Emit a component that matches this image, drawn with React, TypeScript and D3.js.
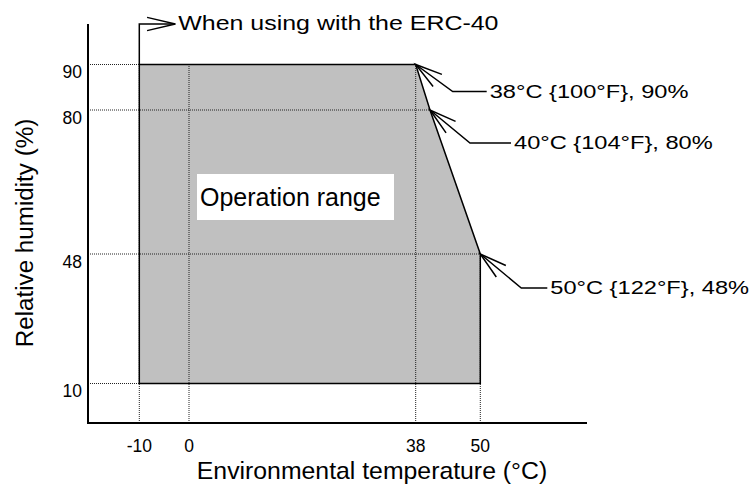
import * as d3 from "d3";

// Temperature / humidity ticks (the chart is schematic, so the scales are piecewise)
const tempTicks = [-10, 0, 38, 50];
const humidityTicks = [90, 80, 48, 10];

// Operation range outline, clockwise from bottom-left: [temperature °C, humidity %]
const rangeTemp = [-10, -10, 38, 40, 50, 50];
const rangeHumidity = [10, 90, 90, 80, 48, 10];

// Corner call-outs
const calloutTemp = [38, 40, 50];
const calloutHumidity = [90, 80, 48];
const calloutLabels = ["38°C {100°F}, 90%", "40°C {104°F}, 80%", "50°C {122°F}, 48%"];

const noteLabel = "When using with the ERC-40";
const areaLabel = "Operation range";
const xTitle = "Environmental temperature (°C)";
const yTitle = "Relative humidity (%)";

const font = "'Liberation Sans', Arial, sans-serif";

function arrowHead(tipX: number, tipY: number, fromX: number, fromY: number, len = 28, spread = 0.27) {
  const angle = Math.atan2(fromY - tipY, fromX - tipX);
  const a1 = angle - spread;
  const a2 = angle + spread;
  return `M${tipX + len * Math.cos(a1)},${tipY + len * Math.sin(a1)}L${tipX},${tipY}L${tipX + len * Math.cos(a2)},${tipY + len * Math.sin(a2)}`;
}

export default function App() {
  const width = 751;
  const height = 489;
  const axisLeft = 88;
  const axisBottom = 423;
  const axisTop = 24;
  const axisRight = 587;

  const x = d3.scaleLinear().domain([-10, 0, 38, 40, 50]).range([139.3, 189, 415.7, 430, 480.3]);
  const y = d3.scaleLinear().domain([10, 48, 80, 90]).range([383.5, 254, 110, 64.5]);

  const points: [number, number][] = rangeTemp.map((t, i) => [x(t), y(rangeHumidity[i])]);
  const outline = d3.line()(points) + "Z";

  // boundary of the range, used to stop the dotted guides
  const topAt = d3.scaleLinear().domain([38, 40, 50]).range([90, 80, 48]).clamp(true);
  const rightAt = d3.scaleLinear().domain([48, 80, 90]).range([50, 40, 38]).clamp(true);

  const leaderLength = [34, 41, 26];
  const elbow = [
    [37, 27],
    [40, 33],
    [41, 34],
  ];

  const noteX = x(-10);
  const noteY = axisTop;
  const noteEnd = noteX + 36;

  return (
    <svg
      width={width}
      height={height}
      viewBox={`0 0 ${width} ${height}`}
      style={{ position: "absolute", left: 0, top: 0, background: "#fff" }}
      fontFamily={font}
    >
      <path d={outline} fill="#c0c0c0" stroke="none" />

      {humidityTicks.map((h) => (
        <line
          key={`h${h}`}
          x1={axisLeft}
          x2={x(rightAt(h))}
          y1={y(h)}
          y2={y(h)}
          stroke="#222"
          strokeWidth={1}
          strokeDasharray="1,1"
        />
      ))}
      {tempTicks.map((t) => (
        <line
          key={`t${t}`}
          x1={x(t)}
          x2={x(t)}
          y1={axisBottom}
          y2={y(topAt(t))}
          stroke="#222"
          strokeWidth={1}
          strokeDasharray="1,1"
        />
      ))}

      <path d={outline} fill="none" stroke="#000" strokeWidth={1.5} strokeLinejoin="miter" />

      <line x1={axisLeft} x2={axisLeft} y1={axisTop} y2={axisBottom + 1} stroke="#000" strokeWidth={2} />
      <line x1={axisLeft - 1} x2={axisRight} y1={axisBottom} y2={axisBottom} stroke="#000" strokeWidth={2} />

      {humidityTicks.map((h) => (
        <text key={`hl${h}`} x={axisLeft - 6} y={y(h) + 13.5} textAnchor="end" fontSize={17.5} fill="#000">
          {h}
        </text>
      ))}
      {tempTicks.map((t) => (
        <text key={`tl${t}`} x={x(t)} y={452} textAnchor="middle" fontSize={17.5} fill="#000">
          {t}
        </text>
      ))}

      <text x={372} y={479} textAnchor="middle" fontSize={24.8} fill="#000">
        {xTitle}
      </text>
      <text transform="translate(33,233) rotate(-90)" textAnchor="middle" fontSize={24.2} fill="#000">
        {yTitle}
      </text>

      <rect x={197} y={174} width={197} height={46} fill="#fff" />
      <text x={200} y={205.5} fontSize={25} fill="#000">
        {areaLabel}
      </text>

      <path
        d={`M${noteX},${y(90)}L${noteX},${noteY}L${noteEnd},${noteY}`}
        fill="none"
        stroke="#000"
        strokeWidth={1.5}
      />
      <path d={arrowHead(noteEnd, noteY, noteX, noteY, 29, 0.23)} fill="none" stroke="#000" strokeWidth={1.5} />
      <text transform={`translate(${noteEnd + 3},30) scale(1.28,1)`} fontSize={19.5} fill="#000">
        {noteLabel}
      </text>

      {calloutLabels.map((label, i) => {
        const px = x(calloutTemp[i]);
        const py = y(calloutHumidity[i]);
        const ex = px + elbow[i][0];
        const ey = py + elbow[i][1];
        const hx = ex + leaderLength[i];
        return (
          <g key={label}>
            <path d={`M${px},${py}L${ex},${ey}L${hx},${ey}`} fill="none" stroke="#000" strokeWidth={1.5} />
            <path d={arrowHead(px, py, ex, ey)} fill="none" stroke="#000" strokeWidth={1.5} />
            <text transform={`translate(${hx + 3},${ey + 6}) scale(1.27,1)`} fontSize={18.6} fill="#000">
              {label}
            </text>
          </g>
        );
      })}
    </svg>
  );
}
